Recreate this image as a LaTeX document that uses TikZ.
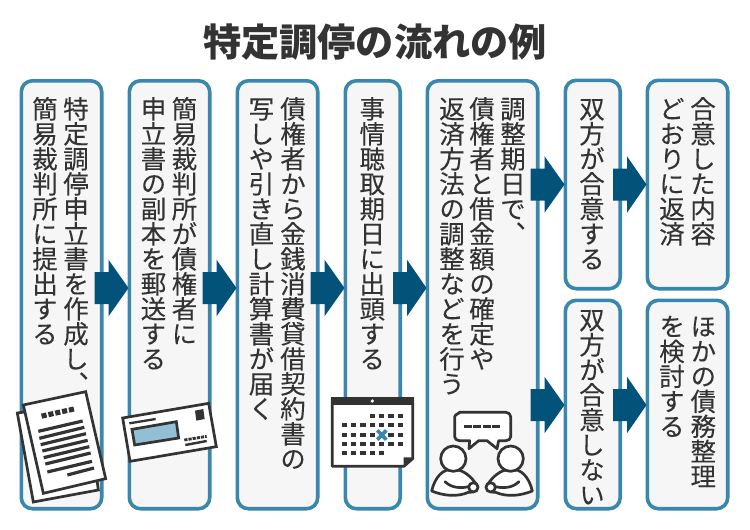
\documentclass[tikz,border=0pt]{standalone}
\usepackage{fontspec}
\usetikzlibrary{calc}
\newfontfamily\cjkv[RawFeature={+vert},FakeBold=0.08]{Noto Sans CJK JP}
\newfontfamily\cjkt{Noto Sans CJK JP}
\definecolor{frameblue}{HTML}{3A87AD}
\definecolor{boxgray}{HTML}{F6F6F6}
\definecolor{arrowblue}{HTML}{02527A}
\definecolor{ink}{HTML}{333333}
\definecolor{lightblue}{HTML}{93BFD6}
\newcommand\vsbox[1]{\hbox to 26pt{\rule[-3pt]{0pt}{25pt}\hss\smash{#1}\hss}}
\def\vsend{\vsend}
\def\vsloop#1{\ifx#1\vsend\let\vsnext\relax\else\vsbox{#1}\let\vsnext\vsloop\fi\vsnext}
\newcommand\vtxt[1]{\vbox{\offinterlineskip\cjkv\fontsize{25.5pt}{25.5pt}\selectfont\color{ink}\vsloop#1\vsend}}
\tikzset{
  flowbox/.style={draw=frameblue,fill=boxgray,line width=3.6pt,rounded corners=11pt,inner sep=0pt},
  vcol/.style={anchor=north,inner sep=0pt,outer sep=0pt},
  blockarr/.style={fill=arrowblue,draw=none},
  iconline/.style={draw=ink,line width=2.7pt,line join=miter},
}
% #1 from node, #2 to node, #3 y
\newcommand\blockarrow[3]{%
  \coordinate (ay) at (0,#3);
  \fill[blockarr] (#1.east |- ay) ++(-9,-16) -- ++(14,0) -- ++(0,-12.3) -- ($(#2.west |- ay)+(1,0)$)
     -- ($(#1.east |- ay)+(5,28.3)$) -- ++(0,-12.3) -- ++(-14,0) -- cycle;
}
\begin{document}
\begin{tikzpicture}[x=1pt,y=-1pt]
\useasboundingbox (0,0) rectangle (750,530);
\fill[white] (0,0) rectangle (750,530);
\node[inner sep=0pt,text=ink] (title) at (375,42) {\cjkt\bfseries\fontsize{38.2pt}{38pt}\selectfont 特定調停の流れの例};
% boxes
\newcommand\fbx[5]{\node[flowbox,minimum width=#4-3.6pt,minimum height=#5-3.6pt] (#1) at (#2+#4/2,#3+#5/2) {};}
\fbx{b1}{19.5}{79}{84}{431.5}
\fbx{b2}{127.5}{79}{84}{431.5}
\fbx{b3}{235.5}{79}{84}{431.5}
\fbx{b4}{343.5}{79}{58.5}{431.5}
\fbx{b5}{425.5}{79}{114}{431.5}
\fbx{b6}{563.5}{78.5}{58.5}{212}
\fbx{b7}{645.5}{78.5}{84}{212}
\fbx{b8}{563.5}{298.5}{58.5}{212}
\fbx{b9}{645.5}{298.5}{84}{212}
% arrows
\blockarrow{b1}{b2}{288}
\blockarrow{b2}{b3}{288}
\blockarrow{b3}{b4}{288}
\blockarrow{b4}{b5}{288}
\blockarrow{b5}{b6}{184.5}
\blockarrow{b6}{b7}{184.5}
\blockarrow{b5}{b8}{405}
\blockarrow{b8}{b9}{405}
% text
\node[vcol] (t1a) at (76,96.5) {\vtxt{特定調停申立書を作成し、}};
\node[vcol] (t1b) at (45,96.5) {\vtxt{簡易裁判所に提出する}};
\node[vcol] (t2a) at (184.5,96.5) {\vtxt{簡易裁判所が債権者に}};
\node[vcol] (t2b) at (153.5,96.5) {\vtxt{申立書の副本を郵送する}};
\node[vcol] (t3a) at (293,96.5) {\vtxt{債権者から金銭消費貸借契約書の}};
\node[vcol] (t3b) at (261.5,96.5) {\vtxt{写しや引き直し計算書が届く}};
\node[vcol] (t4a) at (372.3,96.5) {\vtxt{事情聴取期日に出頭する}};
\node[vcol] (t5a) at (513,96.5) {\vtxt{調整期日で、}};
\node[vcol] (t5b) at (482,96.5) {\vtxt{債権者と借金額の確定や}};
\node[vcol] (t5c) at (452,96.5) {\vtxt{返済方法の調整などを行う}};
\node[vcol] (t6a) at (592,96.5) {\vtxt{双方が合意する}};
\node[vcol] (t7a) at (703,96.5) {\vtxt{合意した内容}};
\node[vcol] (t7b) at (672,96.5) {\vtxt{どおりに返済}};
\node[vcol] (t8a) at (592,307.5) {\vtxt{双方が合意しない}};
\node[vcol] (t9a) at (703.3,314) {\vtxt{ほかの債務整理}};
\node[vcol] (t9b) at (672,314) {\vtxt{を検討する}};
% document icon
\begin{scope}[shift={(0,370)},x=0.33333pt,y=-0.33333pt]
  \draw[iconline,fill=white] (52,129) -- (100,396) -- (295,360) -- (260,100) -- cycle;
  \draw[iconline,fill=white] (70,105) -- (257,65) -- (317,326) -- (130,370) -- cycle;
  \foreach \a/\b/\c/\d in {115/184/248/153,118/205/253/172,122/224/258/191,127/243/263/211,131/263/268/230,136/282/272/249,142/306/276/274,202/315/282/294}
    \draw[ink,line width=3.2pt] (\a,\b) -- (\c,\d);
  \foreach \i in {0,1,2,3,4}
    \fill[ink] ({123+\i*20.5},{131-\i*4.5}) -- ++(15,-3.5) -- ++(3.5,15) -- ++(-15,3.5) -- cycle;
\end{scope}
% envelope icon
\begin{scope}[shift={(0,370)},x=0.33333pt,y=-0.33333pt]
  \draw[iconline,fill=white] (368,144) -- (626,100) -- (649,230) -- (390,274) -- cycle;
  \draw[iconline,fill=lightblue] (396,178) -- (529,155) -- (536,204) -- (404,225) -- cycle;
  \draw[ink,line width=2.3pt] (388,160) -- (467,147);
  \fill[ink] (585,122) -- (610,117) -- (614,147) -- (589,152) -- cycle;
  \draw[ink,line width=2.8pt,dash pattern=on 3.2pt off 1pt] (553,210) -- (620,199);
  \draw[ink,line width=2.4pt] (556,225) -- (620,213);
\end{scope}
% calendar icon
\begin{scope}[shift={(320,380)},x=0.33333pt,y=-0.33333pt]
  \draw[ink,fill=white,line width=2.7pt,line join=round] (37,56) -- (278,56) -- (278,236) -- (252,259) -- (37,259) -- cycle;
  \fill[ink] (33,52) rectangle (282,75);
  \fill[white] (157,63) circle (5.5);
  \fill[ink] (251,232) -- (278,232) -- (251,260) -- cycle;
  \foreach \x in {157,185,213,241} \fill[ink] (\x-8,102) rectangle (\x+8,114);
  \foreach \y in {136,164,192} \foreach \x in {73,101,129,157,185,213,241} \fill[ink] (\x-8,\y-6) rectangle (\x+8,\y+6);
  \foreach \x in {73,101,129,157,185} \fill[ink] (\x-8,214) rectangle (\x+8,226);
  \draw[frameblue,line width=3.6pt] (172,151) -- (199,179) (199,151) -- (172,179);
\end{scope}
% conversation icon
\begin{scope}[shift={(320,380)},x=0.33333pt,y=-0.33333pt]
  \draw[iconline,fill=white,line join=round] (418,97) -- (558,97) to[out=0,in=90] (572,110) -- (572,170) to[out=-90,in=0] (558,182) -- (536,182) -- (531,206) -- (501,182) -- (476,182) -- (447,206) -- (449,182) -- (418,182) to[out=180,in=-90] (404,170) -- (404,110) to[out=90,in=0] cycle;
  \draw[ink,line width=3pt,dash pattern=on 7.7pt off 1.7pt] (432,139) -- (541,139);
  \foreach \m/\s in {1/0,-1/324}{
    \begin{scope}[xshift=\s pt,x={(\m*0.33333pt,0pt)}]
      \draw[iconline,fill=white,line join=round] (335,333) .. controls (345,290) and (370,265) .. (400,268) .. controls (430,268) and (455,290) .. (472,318) .. controls (470,335) and (455,337) .. (445,337) .. controls (410,352) and (370,347) .. (335,333) -- cycle;
      \draw[iconline,line cap=round] (375,305) .. controls (395,325) and (425,325) .. (445,320);
      \draw[iconline,fill=white] (460,322) circle (14);
      \draw[iconline,fill=white] (400,236) circle (38);
    \end{scope}
  }
\end{scope}
\end{tikzpicture}
\end{document}
